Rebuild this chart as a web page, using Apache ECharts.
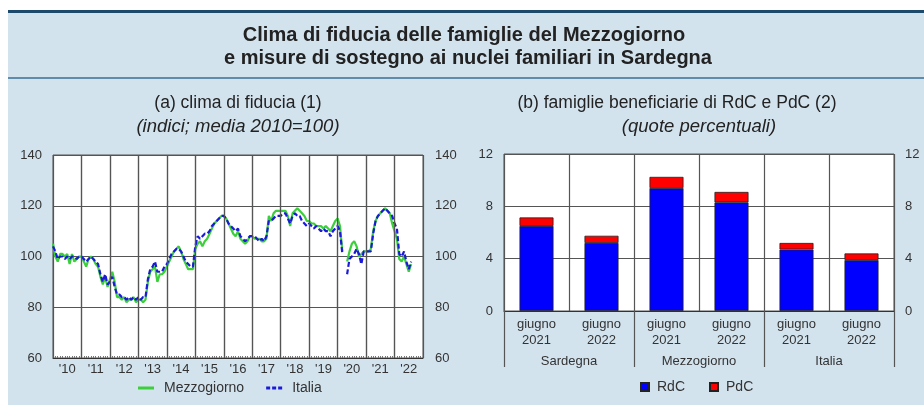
<!DOCTYPE html>
<html>
<head>
<meta charset="utf-8">
<script src="https://cdn.jsdelivr.net/npm/echarts@6/dist/echarts.min.js"></script>
<style>
html, body { margin: 0; padding: 0; background: #fff; }
#chart { width: 924px; height: 405px; }
</style>
</head>
<body>
<div id="chart"></div>
<script>
// (a) clima di fiducia, dati mensili da gennaio 2010 ad agosto 2022
const yearLabels = ["'10", "'11", "'12", "'13", "'14", "'15", "'16", "'17", "'18", "'19", "'20", "'21", "'22"]
const fiduciaTicks = [60, 80, 100, 120, 140]
const italia = [
  104, 102, 99, 100, 100, 99, 100, 99, 100, 100, 99, 100,
  100, 99, 98, 99, 100, 99, 98, 97, 93, 90, 93, 89,
  90, 92, 88, 85, 85, 84, 84, 83, 84, 83, 84, 83,
  84, 83, 84, 84, 91, 95, 96, 98, 94, 94, 94, 96,
  97, 99, 101, 102, 103, 103, 102, 100, 98, 97, 96, 96,
  104, 108, 107, 108, 109, 109, 110, 112, 113, 114, 115, 116,
  116, 115, 113, 112, 111, 110, 111, 108, 107, 106, 107, 108,
  108, 108, 107, 106, 107, 106, 108, 114, 114, 115, 116, 116,
  116, 117, 117, 115, 113, 116, 117, 116, 116, 114, 113, 112,
  113, 112, 111, 112, 111, 110, 111, 110, 110, 108, 110, 111,
  112, 110, 101, null, 93, 99, 100, 101, 103, 101, 97, 102,
  102, 102, 102, 109, 114, 116, 117, 118, 119, 118, 117, 116,
  113, 111, 101, 100, 102, 98, 95, 98
]
const mezzogiorno = [
  105, 100, 98, 101, 101, 100, 101, 97, 101, 98, 99, 100,
  100, 98, 96, 99, 100, 99, 97, 96, 92, 89, 92, 88,
  91, 94, 90, 84, 84, 83, 84, 82, 83, 83, 84, 82,
  83, 83, 82, 83, 90, 94, 95, 96, 90, 93, 93, 94,
  96, 98, 100, 102, 103, 104, 102, 99, 97, 95, 95, 95,
  103, 105, 106, 104, 106, 107, 109, 111, 113, 114, 115, 116,
  116, 115, 113, 111, 109, 108, 110, 107, 106, 105, 106, 108,
  108, 107, 107, 107, 106, 106, 107, 116, 114, 117, 118, 118,
  118, 118, 118, 116, 112, 117, 118, 119, 118, 117, 116, 114,
  114, 113, 113, 112, 112, 112, 111, 112, 111, 110, 112, 114,
  115, 112, 102, null, 98, 102, 105, 106, 104, 100, 101, 102,
  102, 102, 103, 110, 114, 116, 117, 118, 119, 118, 117, 113,
  110, 107, 99, 98, 100, 97, 94, 97
]

// (b) famiglie beneficiarie di RdC e PdC
const barCategories = ['giugno\n2021', 'giugno\n2022', 'giugno\n2021', 'giugno\n2022', 'giugno\n2021', 'giugno\n2022']
const barGroups = ['Sardegna', 'Mezzogiorno', 'Italia']
const rdc = [6.5, 5.2, 9.4, 8.3, 4.7, 3.9]
const pdc = [0.65, 0.55, 0.85, 0.8, 0.5, 0.5]
const quoteTicks = [0, 4, 8, 12]

const chart = echarts.init(document.getElementById('chart'))

const font = '"Liberation Sans", Arial, sans-serif'
const gridColor = '#555'
const labelStyle = { color: '#333', fontSize: 13, fontFamily: font }
const legendText = { color: '#333', fontSize: 14, fontFamily: font, padding: [0, 0, 0, 5] }

function txt (text, x, y, size, weight, style) {
  return {
    type: 'text',
    x: x,
    y: y,
    style: {
      text: text,
      align: 'center',
      verticalAlign: 'middle',
      fontSize: size,
      fontWeight: weight,
      fontStyle: style || 'normal',
      fontFamily: font,
      fill: '#222'
    }
  }
}

// linee verticali di separazione tra gli anni (in mesi)
const yearLines = yearLabels.slice(1).map((y, i) => ({ xAxis: (i + 1) * 12 }))

const option = {
  backgroundColor: '#d3e3ee',
  animation: false,
  textStyle: { fontFamily: font },
  graphic: [
    { type: 'rect', shape: { x: 0, y: 0, width: 924, height: 10 }, style: { fill: '#fff' } },
    { type: 'rect', shape: { x: 0, y: 0, width: 8, height: 405 }, style: { fill: '#fff' } },
    { type: 'rect', shape: { x: 8, y: 10, width: 916, height: 3 }, style: { fill: '#1d4a6a' } },
    { type: 'rect', shape: { x: 8, y: 77, width: 916, height: 2 }, style: { fill: '#5f8cab' } },
    txt('Clima di fiducia delle famiglie del Mezzogiorno', 464, 35, 20, 'bold'),
    txt('e misure di sostegno ai nuclei familiari in Sardegna', 468, 58, 20, 'bold'),
    txt('(a) clima di fiducia (1)', 238, 103, 17.5, 'normal'),
    txt('(indici; media 2010=100)', 238, 127, 18.5, 'normal', 'italic'),
    txt('(b) famiglie beneficiarie di RdC e PdC (2)', 677, 103, 17.5, 'normal'),
    txt('(quote percentuali)', 699, 127, 18.5, 'normal', 'italic')
  ],
  legend: [{
    data: [
      { name: 'Mezzogiorno', icon: 'rect' },
      { name: 'Italia', icon: 'path://M0,0h4v3h-4z M6,0h4v3h-4z M12,0h4v3h-4z' }
    ],
    left: 138,
    top: 381,
    padding: 0,
    itemWidth: 16,
    itemHeight: 3,
    itemGap: 22,
    textStyle: legendText
  }, {
    data: ['RdC', 'PdC'],
    left: 640,
    top: 380,
    padding: 0,
    icon: 'rect',
    itemWidth: 8,
    itemHeight: 8,
    itemGap: 24,
    textStyle: Object.assign({}, legendText, { padding: [0, 0, 0, 3] })
  }],
  grid: [
    { left: 53, top: 155, width: 370, height: 203, show: true, backgroundColor: '#fff', borderColor: gridColor, borderWidth: 1 },
    { left: 504, top: 154, width: 390, height: 157, show: true, backgroundColor: '#fff', borderColor: gridColor, borderWidth: 1 }
  ],
  xAxis: [{
    // anni: solo etichette
    type: 'category',
    gridIndex: 0,
    position: 'bottom',
    data: yearLabels,
    axisLine: { lineStyle: { color: '#333' } },
    axisTick: { show: false },
    axisLabel: Object.assign({ margin: 5, interval: 0 }, labelStyle),
    splitLine: { show: false }
  }, {
    // mesi, per posizionare le serie e le linee degli anni
    type: 'value',
    gridIndex: 0,
    position: 'bottom',
    min: 0,
    max: yearLabels.length * 12,
    interval: 12,
    z: 1,
    axisLine: { show: false },
    axisLabel: { show: false },
    axisTick: { show: true, inside: true, length: 4, lineStyle: { color: '#555' } },
    minorTick: { show: true, splitNumber: 12, length: 2, lineStyle: { color: '#777' } },
    splitLine: { show: true, lineStyle: { color: gridColor, width: 1.2 } }
  }, {
    type: 'category',
    gridIndex: 1,
    data: barCategories,
    axisLine: { lineStyle: { color: '#333' } },
    axisTick: { show: false },
    axisLabel: Object.assign({ margin: 5, interval: 0, lineHeight: 16 }, labelStyle),
    splitLine: { show: true, interval: 0, lineStyle: { color: gridColor, width: 1.2 } }
  }, {
    type: 'category',
    gridIndex: 1,
    data: barGroups,
    position: 'bottom',
    axisLine: { show: false },
    axisTick: { show: true, length: 56, lineStyle: { color: gridColor, width: 1.2 } },
    axisLabel: Object.assign({ margin: 44, interval: 0 }, labelStyle),
    splitLine: { show: false }
  }],
  yAxis: [{
    type: 'value',
    gridIndex: 0,
    min: fiduciaTicks[0],
    max: fiduciaTicks[fiduciaTicks.length - 1],
    interval: fiduciaTicks[1] - fiduciaTicks[0],
    axisLine: { show: false },
    axisTick: { show: false },
    axisLabel: Object.assign({ margin: 11 }, labelStyle),
    splitLine: { lineStyle: { color: gridColor, width: 1.2 } }
  }, {
    type: 'value',
    gridIndex: 0,
    position: 'right',
    min: fiduciaTicks[0],
    max: fiduciaTicks[fiduciaTicks.length - 1],
    interval: fiduciaTicks[1] - fiduciaTicks[0],
    axisLine: { show: false },
    axisTick: { show: false },
    axisLabel: Object.assign({ margin: 12 }, labelStyle),
    splitLine: { show: false }
  }, {
    type: 'value',
    gridIndex: 1,
    min: quoteTicks[0],
    max: quoteTicks[quoteTicks.length - 1],
    interval: quoteTicks[1] - quoteTicks[0],
    axisLine: { show: false },
    axisTick: { show: false },
    axisLabel: Object.assign({ margin: 11 }, labelStyle),
    splitLine: { lineStyle: { color: gridColor, width: 1.2 } }
  }, {
    type: 'value',
    gridIndex: 1,
    position: 'right',
    min: quoteTicks[0],
    max: quoteTicks[quoteTicks.length - 1],
    interval: quoteTicks[1] - quoteTicks[0],
    axisLine: { show: false },
    axisTick: { show: false },
    axisLabel: Object.assign({ margin: 11 }, labelStyle),
    splitLine: { show: false }
  }],
  series: [{
    name: 'Mezzogiorno',
    type: 'line',
    xAxisIndex: 1,
    yAxisIndex: 0,
    data: mezzogiorno.map((v, i) => [i, v]),
    symbol: 'none',
    connectNulls: false,
    itemStyle: { color: '#3ccf3c' },
    lineStyle: { color: '#3ccf3c', width: 2.2 },
    markLine: {
      silent: true,
      symbol: ['none', 'none'],
      label: { show: false },
      lineStyle: { color: gridColor, width: 1.2, type: 'solid' },
      data: yearLines
    }
  }, {
    name: 'Italia',
    type: 'line',
    xAxisIndex: 1,
    yAxisIndex: 0,
    data: italia.map((v, i) => [i, v]),
    symbol: 'none',
    connectNulls: false,
    itemStyle: { color: '#1a1ad8' },
    lineStyle: { color: '#1a1ad8', width: 2.2, type: [5, 2.5] },
    z: 4
  }, {
    name: 'RdC',
    type: 'bar',
    xAxisIndex: 2,
    yAxisIndex: 2,
    stack: 'quote',
    data: rdc,
    barWidth: 34,
    itemStyle: { color: '#0000ff', borderColor: '#222', borderWidth: 0.8 }
  }, {
    name: 'PdC',
    type: 'bar',
    xAxisIndex: 2,
    yAxisIndex: 2,
    stack: 'quote',
    data: pdc,
    barWidth: 34,
    itemStyle: { color: '#ff0000', borderColor: '#222', borderWidth: 0.8 }
  }]
}

chart.setOption(option)
</script>
</body>
</html>
